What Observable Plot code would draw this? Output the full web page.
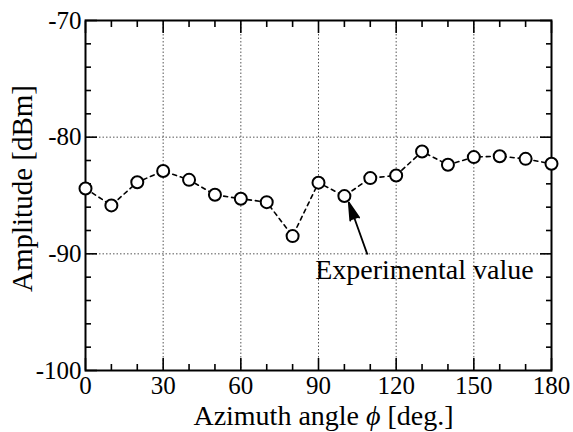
<!DOCTYPE html>
<html>
<head>
<meta charset="utf-8">
<script src="https://cdn.jsdelivr.net/npm/d3@7"></script>
<script src="https://cdn.jsdelivr.net/npm/@observablehq/plot@0.6"></script>
<style>
  body { margin: 0; background: #fff; }
  #chart svg { display: block; }
</style>
</head>
<body>
<div id="chart"></div>
<script>
// Data
const azimuth = [0, 10, 20, 30, 40, 50, 60, 70, 80, 90, 100, 110, 120, 130, 140, 150, 160, 170, 180];
const amplitude = [-84.4, -85.85, -83.86, -82.9, -83.66, -84.94, -85.28, -85.57, -88.48, -83.9, -85.05, -83.51, -83.28, -81.23, -82.37, -81.71, -81.63, -81.86, -82.28];

const xMajorTicks = [0, 30, 60, 90, 120, 150, 180];
const xMinorTicks = [10, 20, 40, 50, 70, 80, 100, 110, 130, 140, 160, 170];
const yMajorTicks = [-100, -90, -80, -70];
const yMinorTicks = [-98, -96, -94, -92, -88, -86, -84, -82, -78, -76, -74, -72];
const xGrid = [30, 60, 90, 120, 150];
const yGrid = [-90, -80];

const annotationText = ["Experimental value"];
const annotationPos = [{x: 130.9, y: -91.35}];
const arrowPos = [{x1: 108.8, y1: -90.0, x2: 101.7, y2: -85.6}];

const xLabel = "Azimuth angle ϕ [deg.]";
const yLabel = "Amplitude [dBm]";

const data = azimuth.map((a, i) => ({a, v: amplitude[i]}));
const font = "'Liberation Serif', 'Times New Roman', serif";
const blank = () => "";

const plot = Plot.plot({
  width: 573,
  height: 432,
  marginLeft: 85,
  marginRight: 22,
  marginTop: 20,
  marginBottom: 62,
  style: {fontFamily: font, background: "#fff", color: "#000"},
  x: {domain: [0, 180]},
  y: {domain: [-100, -70]},
  marks: [
    Plot.gridX(xGrid, {stroke: "#555", strokeOpacity: 1, strokeWidth: 1, strokeDasharray: "1.5,2"}),
    Plot.gridY(yGrid, {stroke: "#555", strokeOpacity: 1, strokeWidth: 1, strokeDasharray: "1.5,2"}),
    // tick marks (inward), bottom/top/left/right
    Plot.axisX({anchor: "bottom", ticks: xMajorTicks, tickSize: -12, strokeWidth: 1.6, tickFormat: blank, label: null}),
    Plot.axisX({anchor: "bottom", ticks: xMinorTicks, tickSize: -6, strokeWidth: 1.6, tickFormat: blank, label: null}),
    Plot.axisX({anchor: "top", ticks: xMajorTicks, tickSize: -12, strokeWidth: 1.6, tickFormat: blank, label: null}),
    Plot.axisX({anchor: "top", ticks: xMinorTicks, tickSize: -6, strokeWidth: 1.6, tickFormat: blank, label: null}),
    Plot.axisY({anchor: "left", ticks: yMajorTicks, tickSize: -12, strokeWidth: 1.6, tickFormat: blank, label: null}),
    Plot.axisY({anchor: "left", ticks: yMinorTicks, tickSize: -6, strokeWidth: 1.6, tickFormat: blank, label: null}),
    Plot.axisY({anchor: "right", ticks: yMajorTicks, tickSize: -12, strokeWidth: 1.6, tickFormat: blank, label: null}),
    Plot.axisY({anchor: "right", ticks: yMinorTicks, tickSize: -6, strokeWidth: 1.6, tickFormat: blank, label: null}),
    // tick labels
    Plot.axisX({anchor: "bottom", ticks: xMajorTicks, tickSize: 0, tickPadding: 6, fontSize: 25, fontFamily: font, fill: "#000", tickFormat: d => String(d), label: null}),
    Plot.axisY({anchor: "left", ticks: yMajorTicks, tickSize: 0, tickPadding: 4, fontSize: 25, fontFamily: font, fill: "#000", tickFormat: d => String(d), label: null}),
    Plot.frame({stroke: "#000", strokeWidth: 2}),
    // data
    Plot.line(data, {x: "a", y: "v", stroke: "#000", strokeWidth: 1.6, strokeDasharray: "4,4"}),
    Plot.dot(data, {x: "a", y: "v", r: 6, stroke: "#000", fill: "#fff", strokeWidth: 2}),
    // annotation
    Plot.arrow(arrowPos, {x1: "x1", y1: "y1", x2: "x2", y2: "y2", stroke: "#000", fill: "#000", strokeWidth: 1.8, headLength: 16, headAngle: 30}),
    Plot.text(annotationPos, {x: "x", y: "y", text: () => annotationText[0], fontSize: 28, fontFamily: font, fill: "#000", textAnchor: "middle", lineAnchor: "middle"}),
    // axis labels
    Plot.text([xLabel], {text: d => d, frameAnchor: "bottom", textAnchor: "middle", lineAnchor: "middle", dx: 5, dy: 46, fontSize: 28, fontFamily: font, fill: "#000"}),
    Plot.text([yLabel], {text: d => d, frameAnchor: "left", textAnchor: "middle", lineAnchor: "middle", rotate: -90, dx: -63, dy: -7, fontSize: 29, fontFamily: font, fill: "#000"})
  ]
});

document.getElementById("chart").appendChild(plot);

// Italicize ϕ in the x-axis label
d3.select(plot).selectAll("text").each(function() {
  const t = this.textContent;
  if (t === xLabel) {
    const el = d3.select(this);
    el.text(null);
    const parts = t.split("ϕ");
    el.append("tspan").text(parts[0]);
    el.append("tspan").attr("font-style", "italic").text("ϕ");
    el.append("tspan").text(parts[1]);
  }
});
</script>
</body>
</html>
